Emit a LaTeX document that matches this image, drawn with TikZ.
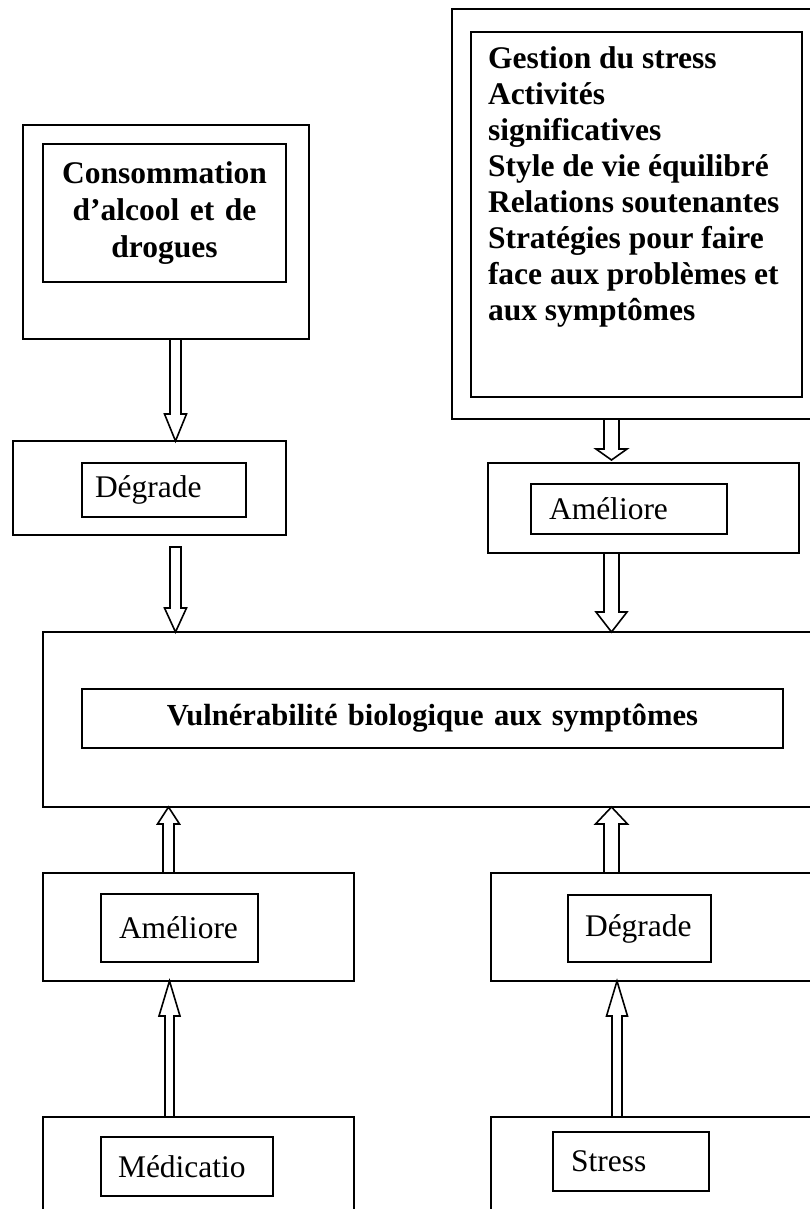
\documentclass[tikz,border=0pt]{standalone}
\usepackage{fontspec}
\setmainfont{Liberation Serif}
\usetikzlibrary{calc}
\tikzset{
  box/.style={draw, line width=1.8pt, inner sep=0pt, outer sep=0pt, anchor=north west},
  arr/.style={draw, line width=1.6pt, line join=miter},
  txt/.style={font=\fontsize{31.5pt}{37pt}\selectfont},
  btxt/.style={font=\bfseries\fontsize{31.5pt}{37pt}\selectfont},
  lab/.style={box, txt, align=left},
}
% outer (empty) box: name, x1, y1, x2, y2
\newcommand\obox[5]{\node[box,minimum width={#4-#2},minimum height={#5-#3}] (#1) at (#2,#3) {};}
% block arrow: from anchor, to anchor, x, shaft half width, head half width, head length, path end
\newcommand\arrdown[7]{\path[arr] let \p1=(#1), \p2=(#2) in
  ({#3pt-#4pt},\y1) -- ({#3pt-#4pt},{\y2+#6pt}) -- ({#3pt-#5pt},{\y2+#6pt}) -- ({#3pt},\y2)
  -- ({#3pt+#5pt},{\y2+#6pt}) -- ({#3pt+#4pt},{\y2+#6pt}) -- ({#3pt+#4pt},\y1) #7;}
\newcommand\arrup[7]{\path[arr] let \p1=(#1), \p2=(#2) in
  ({#3pt-#4pt},\y1) -- ({#3pt-#4pt},{\y2-#6pt}) -- ({#3pt-#5pt},{\y2-#6pt}) -- ({#3pt},\y2)
  -- ({#3pt+#5pt},{\y2-#6pt}) -- ({#3pt+#4pt},{\y2-#6pt}) -- ({#3pt+#4pt},\y1) #7;}
\begin{document}
\begin{tikzpicture}[x=1pt,y=-1pt]
\useasboundingbox (0,0) rectangle (810,1209);
\clip (0,0) rectangle (810,1209);

% ---- top left
\obox{consO}{23}{125}{309}{339}
\node[box, btxt, minimum width=243pt, minimum height=138pt, text width=235pt, inner xsep=4pt, align=center]
  (consI) at (43,144) {Consommation\\ d’alcool et de\\ drogues};
\obox{degLO}{13}{441}{286}{535}
\node[lab, minimum width=164pt, minimum height=54pt, text width=138pt, inner xsep=13pt]
  (degLI) at (82,463) {Dégrade};

% ---- top right
\obox{strO}{452}{9}{815}{419}
\node[box, font=\bfseries\fontsize{31.5pt}{36pt}\selectfont, inner xsep=17pt, inner ysep=14.5pt]
  (strI) at (471,32) {\parbox[c][336pt][t]{297pt}{\raggedright Gestion du stress\\ Activités\\ significatives\\ Style de vie équilibré\\ Relations soutenantes\\ Stratégies pour faire\\ face aux problèmes et\\ aux symptômes}};
\obox{ameRO}{488}{463}{799}{553}
\node[lab, minimum width=196pt, minimum height=50pt, text width=160pt, inner xsep=18pt]
  (ameRI) at (531,484) {Améliore};

% ---- centre
\obox{big}{43}{632}{815}{807}
\node[box, font=\bfseries\fontsize{30.6pt}{36pt}\selectfont, minimum width=701pt, minimum height=59pt, text width=681pt, inner xsep=10pt, align=center]
  (vulI) at (82,689) {Vulnérabilité biologique aux symptômes};

% ---- lower left
\obox{ameLO}{43}{873}{354}{981}
\node[lab, minimum width=157pt, minimum height=68pt, text width=121pt, inner xsep=18pt]
  (ameLI) at (101,894) {Améliore};
\obox{medO}{43}{1117}{354}{1215}
\node[lab, minimum width=172pt, minimum height=59pt, text width=138pt, inner xsep=17pt]
  (medI) at (101,1137) {Médicatio};

% ---- lower right
\obox{degRO}{491}{873}{815}{981}
\node[lab, minimum width=143pt, minimum height=67pt, text width=109pt, inner xsep=17pt]
  (degRI) at (568,895) {Dégrade};
\obox{stO}{491}{1117}{815}{1215}
\node[lab, minimum width=156pt, minimum height=59pt, text width=120pt, inner xsep=18pt]
  (stI) at (553,1132) {Stress};

% ---- block arrows
\arrdown{consO.south}{degLO.north}{175.5}{5.5}{11}{27}{}
\arrdown{$(degLO.south)+(0,12)$}{big.north}{175.5}{5.5}{11}{24}{-- cycle}
\arrdown{strO.south}{$(ameRO.north)+(0,-3)$}{611.5}{7.5}{15.5}{11}{}
\arrdown{ameRO.south}{big.north}{611.5}{7.5}{15.5}{20}{}
\arrup{ameLO.north}{big.south}{168.5}{5.5}{11}{17}{}
\arrup{degRO.north}{big.south}{611.5}{7.5}{16}{17}{}
\arrup{medO.north}{ameLO.south}{169.5}{4.5}{10.5}{35}{}
\arrup{stO.north}{degRO.south}{617}{5}{10.5}{35}{}
\end{tikzpicture}
\end{document}
